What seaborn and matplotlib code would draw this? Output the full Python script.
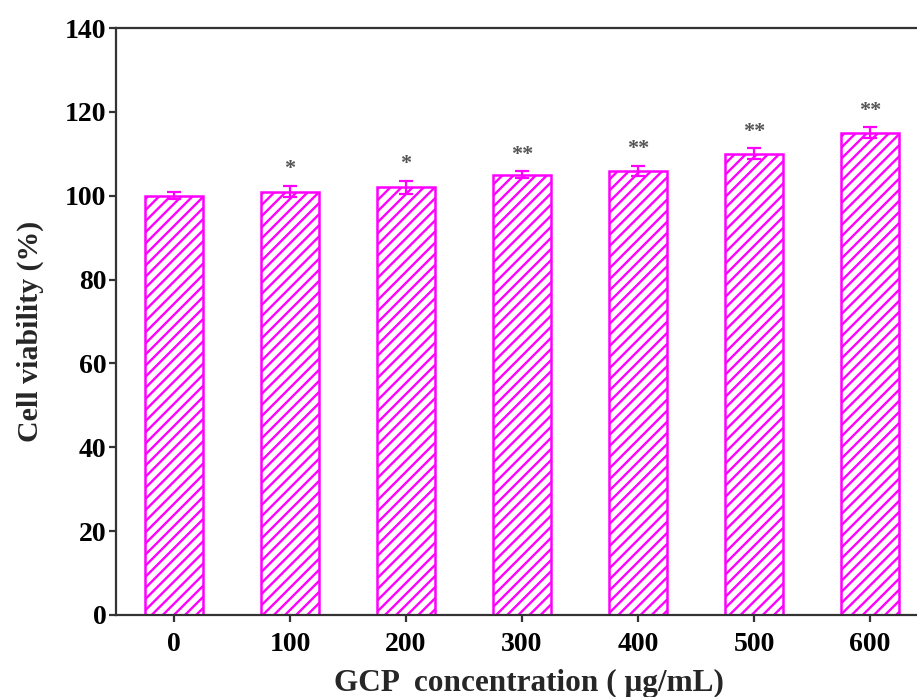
import matplotlib
matplotlib.use("Agg")
import matplotlib.pyplot as plt
import seaborn as sns
import pandas as pd

concentrations = ["0", "100", "200", "300", "400", "500", "600"]
viability = [100, 101, 102, 105, 106, 110, 115]
errors = [0.8, 1.4, 1.5, 0.8, 1.2, 1.3, 1.3]
significance = ["", "*", "*", "**", "**", "**", "**"]

sns.set_theme(style="ticks")
plt.rcParams['font.family'] = ['Liberation Serif', 'DejaVu Serif']
plt.rcParams['font.weight'] = 'bold'
plt.rcParams['hatch.color'] = '#ff00ff'
plt.rcParams['hatch.linewidth'] = 1.7

df = pd.DataFrame({"conc": concentrations, "via": viability})

fig = plt.figure(figsize=(9.17, 6.97), dpi=100)
ax = fig.add_axes([116/917, 1-615/697, 812/917, (615-28)/697])

sns.barplot(data=df, x="conc", y="via", ax=ax, color="white", width=0.5,
            edgecolor="#ff00ff", linewidth=1.8, hatch="///", errorbar=None)
for p in ax.patches:
    p.set_facecolor("white")
    p.set_hatch("///")
    p.set_edgecolor("#ff00ff")

xs = list(range(len(concentrations)))
ax.errorbar(xs, viability, yerr=errors, fmt="none", ecolor="#ff00ff",
            elinewidth=1.6, capsize=5, capthick=1.6)
for x, v, e, s in zip(xs, viability, errors, significance):
    if s:
        ax.text(x, v + e + 1.6, s, ha="center", va="bottom", fontsize=16,
                color="#555555", fontweight="bold")

ax.set_xlim(-0.5, 6.5)
ax.set_ylim(0, 140)
ax.set_yticks(range(0, 141, 20))
ax.spines["right"].set_visible(False)
for sp in ["left", "bottom", "top"]:
    ax.spines[sp].set_linewidth(1.6)
    ax.spines[sp].set_color("#333333")
ax.tick_params(axis="both", direction="out", length=5, width=1.6, color="#333333",
               labelsize=20, labelcolor="black")
ax.tick_params(axis="y", pad=2)
ax.tick_params(axis="x", pad=7)
for lab in ax.get_xticklabels() + ax.get_yticklabels():
    lab.set_fontweight("bold")
ax.set_xlabel("GCP  concentration ( μg/mL)", fontsize=22.5, fontweight="bold", labelpad=8)
ax.set_ylabel("Cell viability (%)", fontsize=21.5, fontweight="bold", labelpad=12)
ax.xaxis.set_label_coords(0.509, -0.092)
ax.yaxis.set_label_coords(-0.089, 0.484)

fig.savefig("out.png", dpi=100)
